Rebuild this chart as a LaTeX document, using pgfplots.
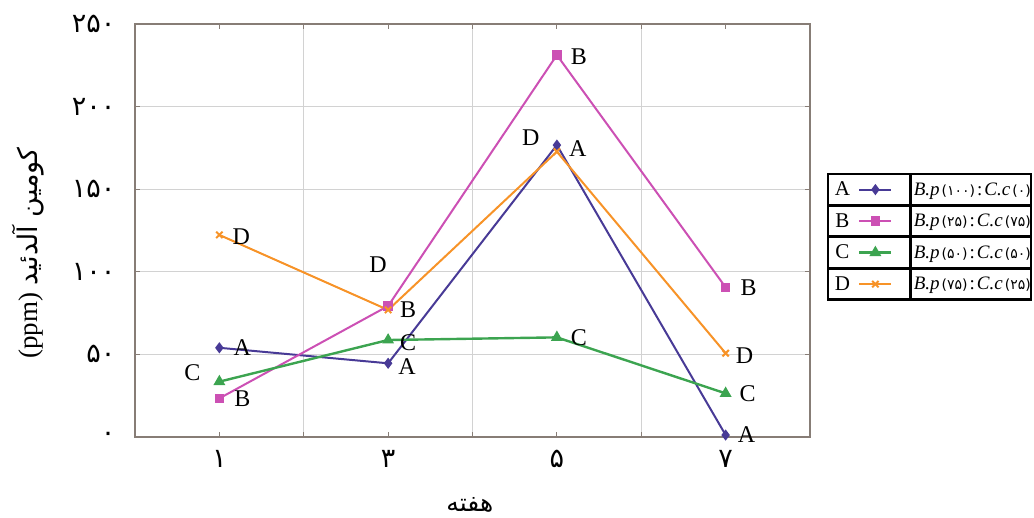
\documentclass[border=0pt]{standalone}
\usepackage{fontspec}
\usepackage{pgfplots}
\pgfplotsset{compat=1.18}
\setmainfont{Liberation Serif}
\newfontfamily\arabicfont[Script=Arabic]{DejaVu Sans}
\TeXXeTstate=1
\definecolor{cA}{RGB}{72,58,150}
\definecolor{cB}{RGB}{204,80,180}
\definecolor{cC}{RGB}{60,164,80}
\definecolor{cD}{RGB}{247,147,40}
\definecolor{axgray}{RGB}{135,125,118}
\pgfplotsset{
  limg/.style={legend image code/.code={
    \draw[black, line width=1.5pt] (0pt,-15pt) rectangle (81pt,15pt);
    \node[draw=none, text width=, minimum height=0pt, minimum width=0pt, inner sep=0pt, anchor=center, black, font=\fontsize{21}{24}\selectfont] at (14pt,0pt) {#1};
    \draw[##1, mark repeat=2, mark phase=2] plot coordinates {(31pt,0pt) (47pt,0pt) (63pt,0pt)};
  }}
}
\newcommand{\lab}[5]{\node[font=\fontsize{24}{28}\selectfont, inner sep=0pt] at (axis cs:#1,#2) [xshift=#3pt, yshift=#4pt] {#5};}
\newcommand{\ltext}[2]{\textit{B.p}\kern2pt{\arabicfont\fontsize{14}{16}\selectfont(#1)}\kern2pt:\kern2pt\textit{C.c}\kern2pt{\arabicfont\fontsize{14}{16}\selectfont(#2)}}
\begin{document}
\begin{tikzpicture}[x=1pt,y=1pt]
\useasboundingbox (-135,-81) rectangle (899,437);
\begin{axis}[
  at={(0,0)}, anchor=south west,
  scale only axis, width=675pt, height=413pt,
  xmin=-0.5, xmax=3.5, ymin=0, ymax=250,
  clip=false,
  xtick={0,1,2,3}, xticklabels={۱,۳,۵,۷},
  minor xtick={0.5,1.5,2.5},
  ytick={0,50,100,150,200,250},
  yticklabels={۰,۵۰,۱۰۰,۱۵۰,۲۰۰,۲۵۰},
  xminorgrids, ymajorgrids,
  grid style={draw=gray!35, line width=1pt},
  minor grid style={draw=gray!35, line width=1pt},
  axis line style={draw=axgray, line width=1.8pt},
  tick style={draw=axgray, line width=1pt},
  tick align=inside, major tick length=5pt, minor tick length=5pt,
  ticklabel style={font=\arabicfont\fontsize{27}{30}\selectfont},
  xticklabel style={yshift=-10pt},
  yticklabel style={xshift=-16pt},
  xlabel={\arabicfont\beginR هفته\endR},
  xlabel style={at={(axis description cs:0.496,-0.165)}, anchor=center, font=\fontsize{25}{28}\selectfont},
  ylabel={(ppm) {\arabicfont\beginR کومین آلدئید\endR}},
  ylabel style={at={(axis description cs:-0.1585,0.4455)}, anchor=center, rotate=0, font=\fontsize{27}{30}\selectfont},
  legend cell align=left,
  legend style={at={(1.025,0.639)}, anchor=north west, draw=black, line width=1.5pt,
    inner sep=0pt, row sep=0pt, column sep=0pt,
    nodes={draw=black, line width=1.5pt, anchor=west, text width=114pt, inner xsep=3pt, inner ysep=2pt, minimum height=30pt, font=\fontsize{19}{22}\selectfont}},
]
\addplot[cA, line width=2pt, mark=diamond*, mark size=4pt, limg=A] coordinates {(0,54) (1,44.6) (2,176.7) (3,1.2)};
\addlegendentry{\ltext{۱۰۰}{۰}}
\addplot[cB, line width=2pt, mark=square*, mark size=3.8pt, limg=B] coordinates {(0,23.4) (1,79.3) (2,231.2) (3,90.6)};
\addlegendentry{\ltext{۲۵}{۷۵}}
\addplot[cC, line width=2.4pt, mark=triangle*, mark size=4.5pt, limg=C] coordinates {(0,33.5) (1,58.7) (2,60.3) (3,26.4)};
\addlegendentry{\ltext{۵۰}{۵۰}}
\addplot[cD, line width=2pt, mark=x, mark size=4.5pt, limg=D] coordinates {(0,122.3) (1,76.9) (2,172.7) (3,50.7)};
\addlegendentry{\ltext{۷۵}{۲۵}}
\lab{0}{54}{23}{0}{A}
\lab{1}{44.6}{19}{-3}{A}
\lab{2}{176.7}{21}{-3}{A}
\lab{3}{1.2}{21}{0}{A}
\lab{0}{23.4}{23}{0}{B}
\lab{1}{79.3}{20}{-4}{B}
\lab{2}{231.2}{22}{-2}{B}
\lab{3}{90.6}{23}{0}{B}
\lab{0}{33.5}{-27}{9}{C}
\lab{1}{58.7}{20}{-3}{C}
\lab{2}{60.3}{22}{0}{C}
\lab{3}{26.4}{22}{0}{C}
\lab{0}{122.3}{22}{-2}{D}
\lab{1}{76.9}{-10}{45}{D}
\lab{2}{172.7}{-26}{14}{D}
\lab{3}{50.7}{19}{-2}{D}
\end{axis}
\end{tikzpicture}
\end{document}
